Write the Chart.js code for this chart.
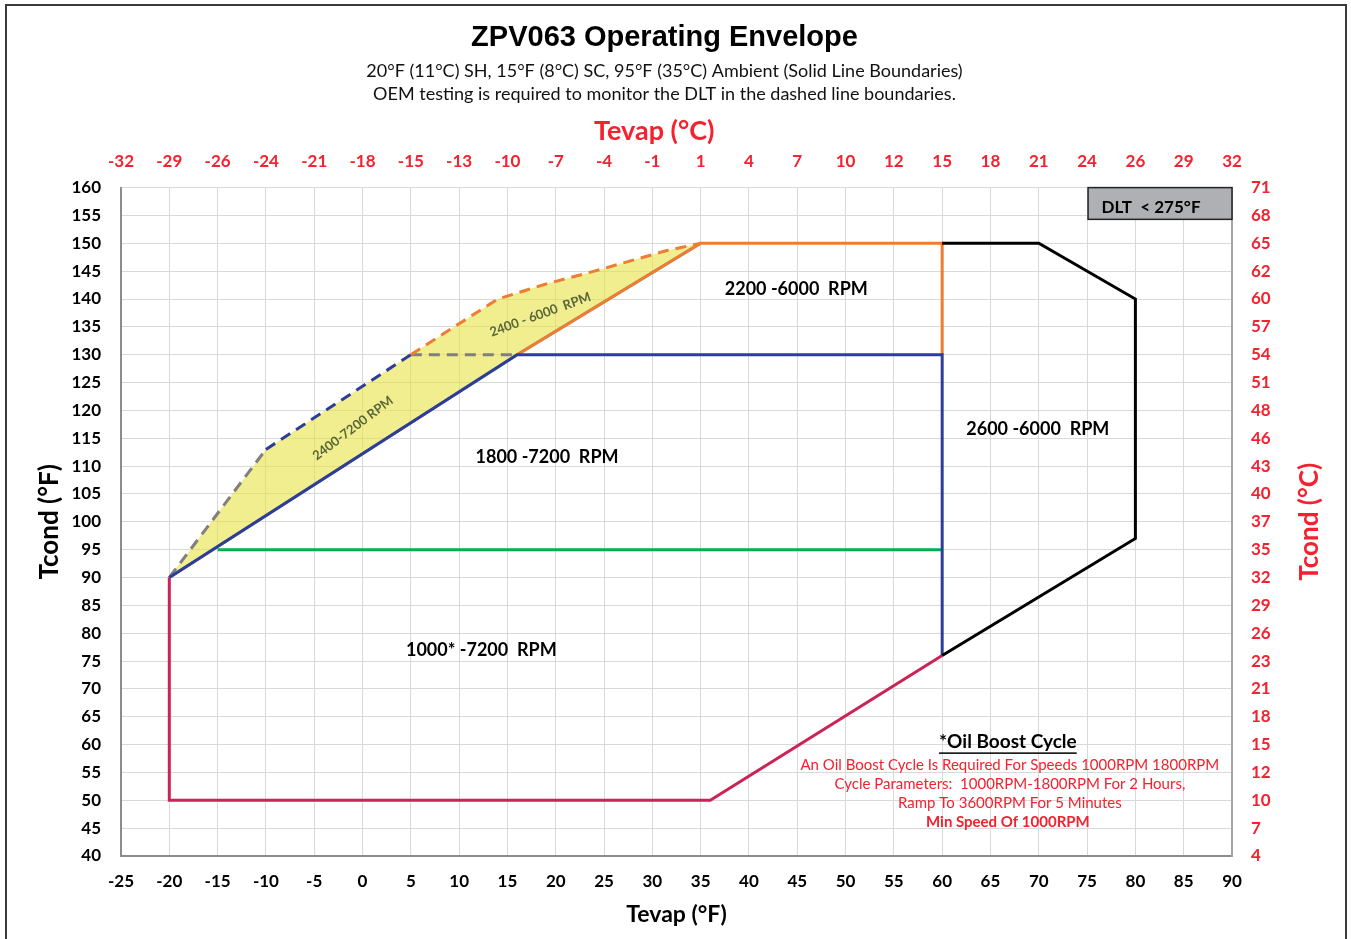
<!DOCTYPE html>
<html>
<head>
<meta charset="utf-8">
<title>ZPV063 Operating Envelope</title>
<script src="https://cdn.jsdelivr.net/npm/chart.js@4.4.1/dist/chart.umd.min.js"></script>
<style>
  html, body { margin: 0; padding: 0; background: #fff; }
  canvas { display: block; }
</style>
</head>
<body>
<canvas id="envelopeChart" width="1351" height="939"></canvas>
<script>
// secondary tick labels (°C), listed from axis min to axis max
const tevapCLabels = ['-32', '-29', '-26', '-24', '-21', '-18', '-15', '-13', '-10', '-7', '-4', '-1',
                      '1', '4', '7', '10', '12', '15', '18', '21', '24', '26', '29', '32'];
const tcondCLabels = ['4', '7', '10', '12', '15', '18', '21', '23', '26', '29', '32', '35', '37',
                      '40', '43', '46', '48', '51', '54', '57', '60', '62', '65', '68', '71'];

// solid envelope boundaries (Tevap °F, Tcond °F)
const minSpeedX = [-20, -20, 36, 60];
const minSpeedY = [90, 50, 50, 76];
const speed1800X = [-20, 16, 60, 60];
const speed1800Y = [90, 130, 130, 76];
const speed95X = [-15, 60];
const speed95Y = [95, 95];
const speed2200X = [16, 35, 60, 60];
const speed2200Y = [130, 150, 150, 130];
const speed2600X = [60, 70, 80, 80, 70, 60];
const speed2600Y = [150, 150, 140, 97, 86.5, 76];

// dashed DLT monitoring boundaries
const dltGreyX = [-20, -10];
const dltGreyY = [90, 113];
const dltBlueX = [-10, 5];
const dltBlueY = [113, 130];
const dltShelfX = [5, 16];
const dltShelfY = [130, 130];
const dltOrangeX = [5, 14, 19, 24, 31.5, 35];
const dltOrangeY = [130, 140, 142.7, 145, 148.7, 150];
const dltLowerX = [-20, 16, 35];
const dltLowerY = [90, 130, 150];

const RED = '#f4212e';
const FONT = 'Lato';

function pts(xs, ys) {
    return xs.map((x, i) => ({ x: x, y: ys[i] }));
}

function line(label, xs, ys, color, extra) {
    return Object.assign({
        label: label,
        data: pts(xs, ys),
        showLine: true,
        borderColor: color,
        borderWidth: 3,
        pointRadius: 0,
        fill: false
    }, extra || {});
}

const dash = { borderDash: [11, 7] };
const dltUpperX = dltGreyX.concat(dltBlueX.slice(1), dltOrangeX.slice(1));
const dltUpperY = dltGreyY.concat(dltBlueY.slice(1), dltOrangeY.slice(1));

// text placed in data coordinates
const notes = [
    { text: '2200 -6000  RPM', x: 44.9, y: 141.7 },
    { text: '1800 -7200  RPM', x: 19.1, y: 111.6 },
    { text: '1000* -7200  RPM', x: 12.3, y: 77 },
    { text: '2600 -6000  RPM', x: 69.9, y: 116.6 }
];
const slanted = [
    { text: '2400-7200 RPM', x: -1.0, y: 116.8, angle: -37 },
    { text: '2400 - 6000  RPM', x: 18.4, y: 137.2, angle: -20 }
];
const oilLines = [
    'An Oil Boost Cycle Is Required For Speeds 1000RPM 1800RPM',
    'Cycle Parameters:  1000RPM-1800RPM For 2 Hours,',
    'Ramp To 3600RPM For 5 Minutes'
];

const envelopeLabels = {
    id: 'envelopeLabels',
    beforeDraw(chart) {
        const ctx = chart.ctx;
        ctx.save();
        ctx.fillStyle = '#fff';
        ctx.fillRect(0, 0, chart.width, chart.height);
        ctx.strokeStyle = '#3a3a3a';
        ctx.lineWidth = 2;
        ctx.strokeRect(6, 5, chart.width - 11, chart.height + 10);
        ctx.restore();
    },
    afterDatasetsDraw(chart) {
        const ctx = chart.ctx;
        const xs = chart.scales.x, ys = chart.scales.y;
        const area = chart.chartArea;
        ctx.save();
        ctx.textAlign = 'center';
        ctx.textBaseline = 'middle';

        ctx.fillStyle = '#000';
        ctx.font = 'bold 18px ' + FONT;
        notes.forEach(n => {
            ctx.fillText(n.text, xs.getPixelForValue(n.x), ys.getPixelForValue(n.y));
        });

        ctx.fillStyle = '#5b6638';
        ctx.font = 'bold 13px ' + FONT;
        slanted.forEach(n => {
            ctx.save();
            ctx.translate(xs.getPixelForValue(n.x), ys.getPixelForValue(n.y));
            ctx.rotate(n.angle * Math.PI / 180);
            ctx.fillText(n.text, 0, 0);
            ctx.restore();
        });

        // DLT box in the upper right corner
        const bx0 = xs.getPixelForValue(75.1), bx1 = area.right;
        const by0 = area.top, by1 = ys.getPixelForValue(154.3);
        ctx.fillStyle = '#aeb0b3';
        ctx.fillRect(bx0, by0, bx1 - bx0, by1 - by0);
        ctx.strokeStyle = '#222';
        ctx.lineWidth = 1.5;
        ctx.strokeRect(bx0, by0, bx1 - bx0, by1 - by0);
        ctx.fillStyle = '#000';
        ctx.font = 'bold 17px ' + FONT;
        ctx.fillText('DLT  < 275°F', (bx0 + bx1) / 2 - 9, (by0 + by1) / 2 + 4);

        // oil boost note
        const ox = xs.getPixelForValue(66.8);
        let oy = ys.getPixelForValue(60.4);
        ctx.font = 'bold 19px ' + FONT;
        ctx.fillText('*Oil Boost Cycle', ox, oy);
        const w = ctx.measureText('*Oil Boost Cycle').width;
        ctx.fillRect(ox - w / 2, oy + 10, w, 1.5);
        ctx.fillStyle = RED;
        ctx.font = '15px ' + FONT;
        oilLines.forEach((t, i) => {
            ctx.fillText(t, ox + 2, oy + 23 + i * 19);
        });
        ctx.font = 'bold 15px ' + FONT;
        ctx.fillText('Min Speed Of 1000RPM', ox, oy + 23 + 3 * 19);

        // top axis title, sitting a little left of centre
        ctx.fillStyle = RED;
        ctx.font = 'bold 27px ' + FONT;
        ctx.fillText('Tevap (°C)', xs.getPixelForValue(30.2), 131);

        // right axis title, reading bottom to top
        ctx.save();
        ctx.translate(area.right + 78, (area.top + area.bottom) / 2);
        ctx.rotate(-Math.PI / 2);
        ctx.font = 'bold 26px ' + FONT;
        ctx.fillText('Tcond (°C)', 0, 0);
        ctx.restore();

        ctx.restore();
    }
};

function createEnvelopeChart() {
    const ctx = document.getElementById('envelopeChart').getContext('2d');
    const tickFont = { family: FONT, weight: 'bold', size: 17 };

    new Chart(ctx, {
        type: 'scatter',
        data: {
            datasets: [
                line('2600-6000 RPM', speed2600X, speed2600Y, '#000000'),
                line('Min speed', minSpeedX, minSpeedY, '#cc2356'),
                line('1800-7200 RPM', speed1800X, speed1800Y, '#2e3d98'),
                line('95F line', speed95X, speed95Y, '#00b050'),
                line('2200-6000 RPM', speed2200X, speed2200Y, '#ed7d31'),
                line('DLT orange', dltOrangeX, dltOrangeY, '#ed7d31', dash),
                line('DLT blue', dltBlueX, dltBlueY, '#2e3d98', dash),
                line('DLT grey', dltGreyX, dltGreyY, '#7f7f7f', dash),
                line('DLT shelf', dltShelfX, dltShelfY, '#7f7f7f', dash),
                line('DLT lower', dltLowerX, dltLowerY, '#8a8a8a'),
                line('DLT zone', dltUpperX, dltUpperY, 'rgba(0,0,0,0)', {
                    borderWidth: 0,
                    fill: '-1',
                    backgroundColor: 'rgba(232, 226, 70, 0.6)'
                })
            ]
        },
        options: {
            responsive: false,
            animation: false,
            layout: { padding: { left: 0, top: 0, bottom: 0, right: 22 } },
            plugins: {
                legend: { display: false },
                tooltip: { enabled: false },
                title: {
                    display: true,
                    text: 'ZPV063 Operating Envelope',
                    color: '#000',
                    font: { family: 'Liberation Sans', weight: 'bold', size: 29, lineHeight: 1.2 },
                    padding: { top: 20.4, bottom: 4 }
                },
                subtitle: {
                    display: true,
                    text: ['20°F (11°C) SH, 15°F (8°C) SC, 95°F (35°C) Ambient (Solid Line Boundaries)',
                           'OEM testing is required to monitor the DLT in the dashed line boundaries.'],
                    color: '#111',
                    font: { family: FONT, size: 18, lineHeight: '23px' },
                    padding: { top: 0, bottom: 5.4 }
                }
            },
            scales: {
                x: {
                    type: 'linear',
                    position: 'bottom',
                    min: -25,
                    max: 90,
                    ticks: { stepSize: 5, padding: 15, color: '#000', font: tickFont, autoSkip: false, maxRotation: 0 },
                    grid: { color: '#d9d9d9', drawTicks: false },
                    border: { color: '#8c8c8c', width: 2 },
                    title: {
                        display: true,
                        text: 'Tevap (°F)',
                        color: '#000',
                        font: { family: FONT, weight: 'bold', size: 23 },
                        padding: { top: 0, bottom: 11 }
                    },
                    afterFit(scale) { scale.height = 83; }
                },
                x2: {
                    type: 'linear',
                    position: 'top',
                    min: -25,
                    max: 90,
                    ticks: {
                        stepSize: 5, padding: 16, color: RED, font: tickFont, autoSkip: false, maxRotation: 0,
                        callback: (v, i) => tevapCLabels[i]
                    },
                    grid: { display: false, drawTicks: false },
                    border: { display: false },
                    afterFit(scale) { scale.height = 77; }
                },
                y: {
                    type: 'linear',
                    position: 'left',
                    min: 40,
                    max: 160,
                    ticks: { stepSize: 5, padding: 20, color: '#000', font: tickFont },
                    grid: { color: '#d9d9d9', drawTicks: false },
                    border: { color: '#8c8c8c', width: 2 },
                    title: {
                        display: true,
                        text: 'Tcond (°F)',
                        color: '#000',
                        font: { family: FONT, weight: 'bold', size: 26 },
                        padding: { top: 34, bottom: 0 }
                    },
                    afterFit(scale) { scale.width = 121; }
                },
                y2: {
                    type: 'linear',
                    position: 'right',
                    min: 40,
                    max: 160,
                    ticks: {
                        stepSize: 5, padding: 19, color: RED, font: tickFont,
                        callback: (v, i) => tcondCLabels[i]
                    },
                    grid: { display: false, drawTicks: false },
                    border: { color: '#a6a6a6', width: 2 },
                    afterFit(scale) { scale.width = 97; }
                }
            }
        },
        plugins: [envelopeLabels]
    });
}

document.addEventListener('DOMContentLoaded', function() {
    createEnvelopeChart();
});
</script>
</body>
</html>
